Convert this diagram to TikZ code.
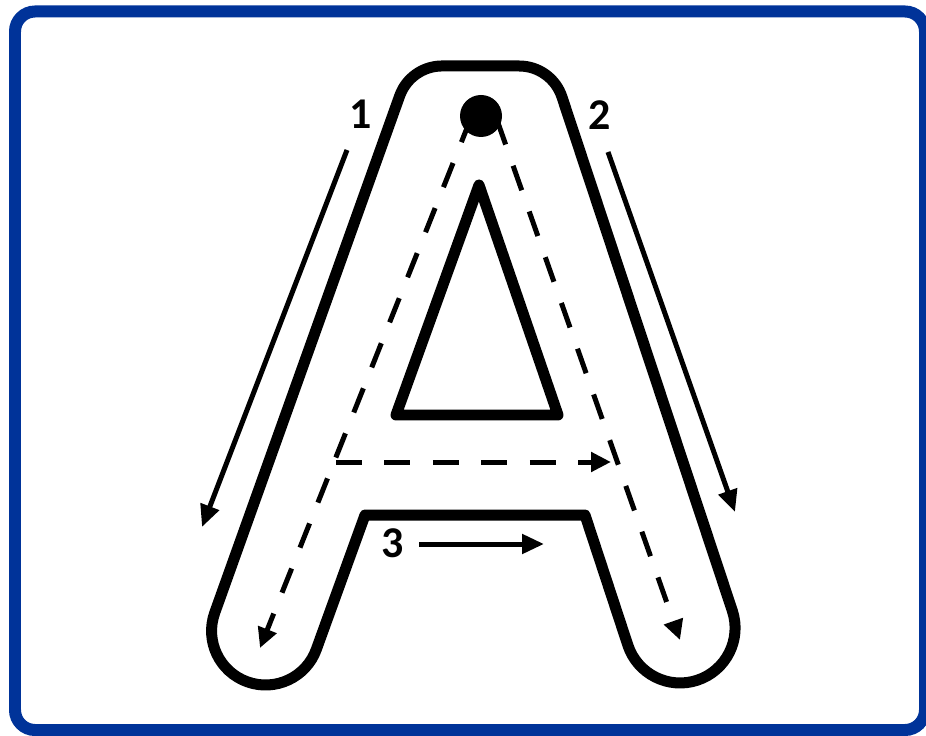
\documentclass[tikz,border=0pt]{standalone}
\usepackage{fontspec}
\newfontfamily\numfont{Carlito}
\usepackage{xcolor}
\usepackage{tikz}
\usetikzlibrary{arrows.meta,positioning,calc}

\definecolor{framecol}{RGB}{0,51,153}

\begin{document}
\begin{tikzpicture}[
  x=0.02cm, y=-0.02cm,
  frame/.style={
    draw=framecol, line width=0.24cm, rounded corners=0.4cm
  },
  outline/.style={line width=0.22cm, line join=round, black},
  arr/.style={-{Triangle[length=0.44cm,width=0.38cm]},line width=0.1cm},
  guide/.style={
    -{Triangle[length=0.4cm,width=0.38cm]}, line width=0.1cm,
    dash pattern=on 0.52cm off 0.45cm
  },
  num/.style={
    font=\numfont\bfseries\fontsize{25}{29}\selectfont, inner sep=0pt
  },
]
\useasboundingbox (0,0) rectangle (926,736);
\draw[frame] (15,11.5) rectangle (925,730);

% letter A, outer contour and counter
\draw[outline, fill=white] (365,515) -- (316.4,649.2)
  arc[start angle=19.7, end angle=199.7, radius=54]
  -- (399.7,95.8)
  arc[start angle=199.7, end angle=270, radius=45]
  -- (519.2,66)
  arc[start angle=270, end angle=341.7, radius=45]
  -- (732.3,610.7)
  arc[start angle=-18.3, end angle=161.7, radius=55]
  -- (585,515) -- cycle;
\draw[outline] (479,185) -- (396,415) -- (558,415) -- cycle;

% stroke order guides
\coordinate (sL)   at (471,118);
\coordinate (tipL) at (260,648);
\coordinate (sR)   at (497,120);
\coordinate (tipR) at (680,640);
\coordinate (barL) at (336,462);
\coordinate (barR) at (611,462);
\draw[guide] (sL) -- (tipL);
\draw[guide] (sR) -- (tipR);
\draw[guide] (barL) -- (barR);
\fill (481,116) circle[radius=21];

% numbered arrows
\node[num] (n1) at (361,114) {1};
\node[num] (n2) at (600,115) {2};
\node[num] (n3) at (393,543) {3};
\coordinate (a1s) at (347,150);
\coordinate (a1e) at (202,527);
\coordinate (a2s) at (608,152);
\coordinate (a2e) at (735,512);
\coordinate (a3s) at (419,544);
\coordinate (a3e) at (544,544);
\draw[arr] (a1s) -- (a1e);
\draw[arr] (a2s) -- (a2e);
\draw[arr] (a3s) -- (a3e);
\end{tikzpicture}
\end{document}
